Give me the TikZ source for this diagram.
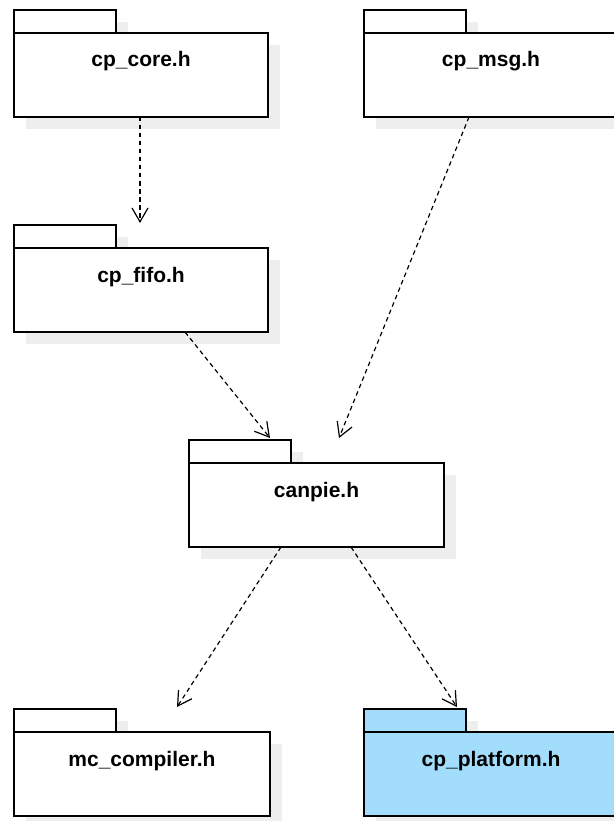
\documentclass[tikz,border=0pt]{standalone}
\usepackage{fontspec}
\setmainfont{Liberation Sans}
\usetikzlibrary{arrows.meta,calc,backgrounds}
\definecolor{pkgblue}{HTML}{A3DDFC}
\definecolor{shadowgray}{HTML}{EEEEEE}
\tikzset{
  pkgbody/.style={draw=black, line width=1.3pt, fill=white, anchor=north west,
    minimum width=254pt, minimum height=84pt, inner sep=0pt, outer sep=0pt},
  pkglabel/.style={font=\bfseries\fontsize{21}{24}\selectfont, inner sep=0pt, anchor=base},
  pkgtab/.style={draw=black, line width=1.3pt},
  dep/.style={dash pattern=on 4.5pt off 3.5pt, line width=1.2pt,
    -{Straight Barb[angle=60:16pt, line width=1.2pt]}},
}
\newcommand{\pkg}[6][254]{% [width] name, x, y(body top), label, fill
  \node[pkgbody, fill=#6, minimum width=#1pt] (#2) at (#3,#4) {};
  \node[pkglabel] (#2-l) at ($(#2.north)+(0,34)$) {#5};
  \draw[pkgtab, fill=#6] (#2.north west) rectangle ++(102,-23);
  \begin{scope}[on background layer]
    \fill[shadowgray] ($(#2.north west)+(12,12)$) rectangle ($(#2.south east)+(12,12)$);
    \fill[shadowgray] ($(#2.north west)+(12,-11)$) rectangle ++(102,23);
  \end{scope}
}
\begin{document}
\begin{tikzpicture}[x=1pt, y=-1pt]
\useasboundingbox (0,0) rectangle (613,821);
\pkg{core}{14}{33}{cp\_core.h}{white}
\pkg{msg}{364}{33}{cp\_msg.h}{white}
\pkg{fifo}{14}{248}{cp\_fifo.h}{white}
\pkg[255]{canpie}{189}{463}{canpie.h}{white}
\pkg[256]{mcc}{14}{732}{mc\_compiler.h}{white}
\pkg{plat}{364}{732}{cp\_platform.h}{pkgblue}
\draw[dep] ($(core.south west)+(126,0)$) -- ($(fifo.north west)+(126,-25)$);
\draw[dep] ($(fifo.south west)+(171,0)$) -- ($(canpie.north west)+(81,-25)$);
\draw[dep] ($(msg.south west)+(105,0)$) -- ($(canpie.north west)+(150,-25)$);
\draw[dep] ($(canpie.south west)+(92,0)$) -- ($(mcc.north west)+(163,-25)$);
\draw[dep] ($(canpie.south west)+(162,0)$) -- ($(plat.north west)+(93,-25)$);
\end{tikzpicture}
\end{document}
